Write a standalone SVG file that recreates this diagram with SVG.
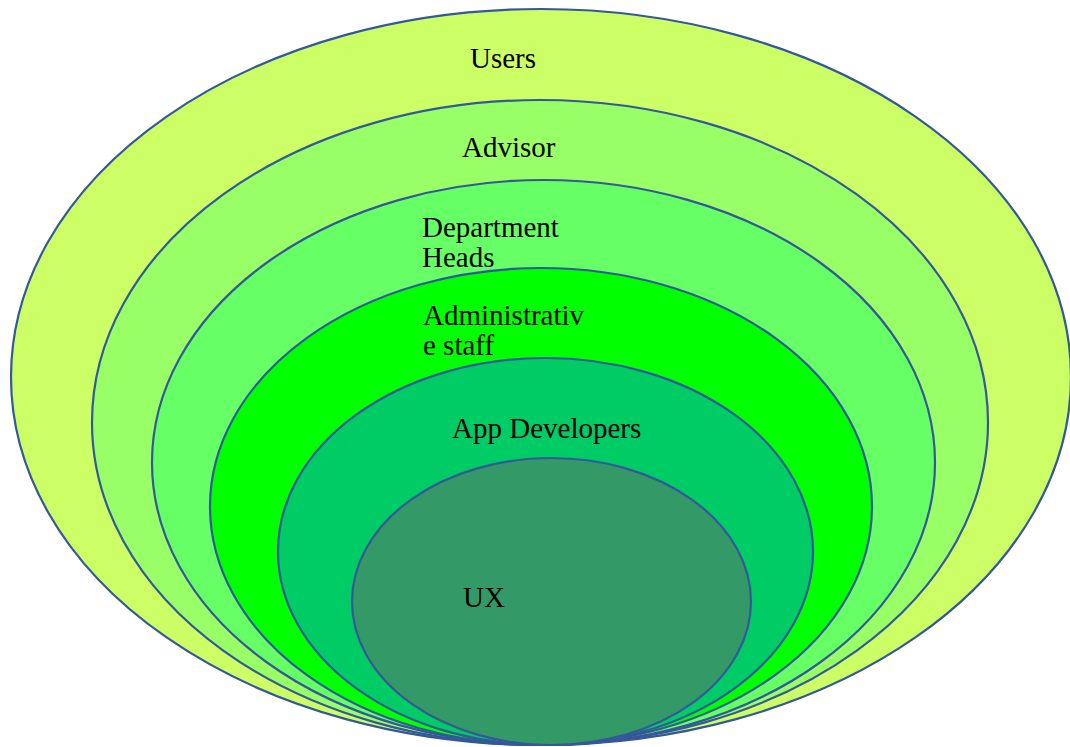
<svg xmlns="http://www.w3.org/2000/svg" width="1070" height="747" viewBox="0 0 1070 747">
  <style>
    .ring { stroke: #34589A; stroke-width: 2.2; }
    .label { font-family: "Liberation Serif", "Times New Roman", serif; font-size: 29px; fill: #000; }
  </style>
  <rect width="1070" height="747" fill="#ffffff"/>
  <!-- nested layers, outermost first; all meet at the bottom -->
  <g id="users">
    <ellipse class="ring" cx="541" cy="377" rx="530" ry="368" fill="#CCFF66"/>
    <text class="label" x="470" y="68">Users</text>
  </g>
  <g id="advisor">
    <ellipse class="ring" cx="540" cy="422.5" rx="448" ry="322.5" fill="#99FF66"/>
    <text class="label" x="462" y="157">Advisor</text>
  </g>
  <g id="department-heads">
    <ellipse class="ring" cx="543.5" cy="462.5" rx="391.5" ry="282.5" fill="#66FF66"/>
    <text class="label" x="422" y="237">Department</text>
    <text class="label" x="422" y="267">Heads</text>
  </g>
  <g id="administrative-staff">
    <ellipse class="ring" cx="541" cy="506.5" rx="331" ry="238.5" fill="#00FF00"/>
    <text class="label" x="423" y="325">Administrativ</text>
    <text class="label" x="423" y="355">e staff</text>
  </g>
  <g id="app-developers">
    <ellipse class="ring" cx="545.5" cy="551.5" rx="267.5" ry="193.5" fill="#00CC66"/>
    <text class="label" x="452" y="438">App Developers</text>
  </g>
  <g id="ux">
    <ellipse class="ring" cx="551.5" cy="601.5" rx="199.5" ry="143.5" fill="#339966"/>
    <text class="label" x="463" y="607">UX</text>
  </g>
  <g id="connectors"/>
</svg>
